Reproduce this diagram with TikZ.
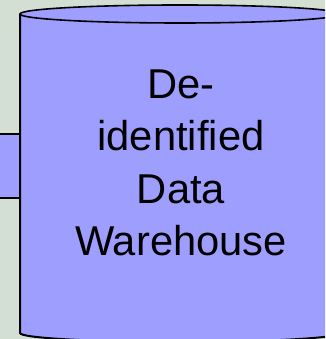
\documentclass[tikz,border=0pt]{standalone}
\usepackage{fontspec}
\setmainfont{Liberation Sans}
\usepackage{tikz}
\definecolor{bgcol}{RGB}{210,223,210}
\definecolor{dbcol}{RGB}{158,158,255}
\def\rx{160}
\def\ry{9}

\begin{document}
\begin{tikzpicture}[x=1pt,y=1pt]
\useasboundingbox (0,0) rectangle (325,339);
\clip (0,0) rectangle (325,339);
\fill[bgcol] (0,0) rectangle (325,339);

\coordinate (TL) at (20,325);
\coordinate (BL) at (20,6);
\coordinate (BR) at (340,6);
\coordinate (TR) at (340,325);
\coordinate (TC) at (180,325);

% box behind, on the left
\filldraw[fill=dbcol, line width=1.5pt] (-5,141) rectangle (20,205);

% warehouse drum
\fill[dbcol] (TL) -- (BL) arc[start angle=180, end angle=360, x radius=\rx, y radius=\ry] -- (TR) arc[start angle=0, end angle=180, x radius=\rx, y radius=\ry] -- cycle;
\draw[line width=2pt] (TR) -- (BR) arc[start angle=360, end angle=180, x radius=\rx, y radius=\ry] -- (TL);
\draw[line width=1.6pt] (TC) ellipse [x radius=\rx, y radius=\ry];

\node[align=center, inner sep=0pt, font=\fontsize{41.7}{52.3}\selectfont] (dw) at (181,176) {De-\\identified\\Data\\Warehouse};
\end{tikzpicture}
\end{document}
